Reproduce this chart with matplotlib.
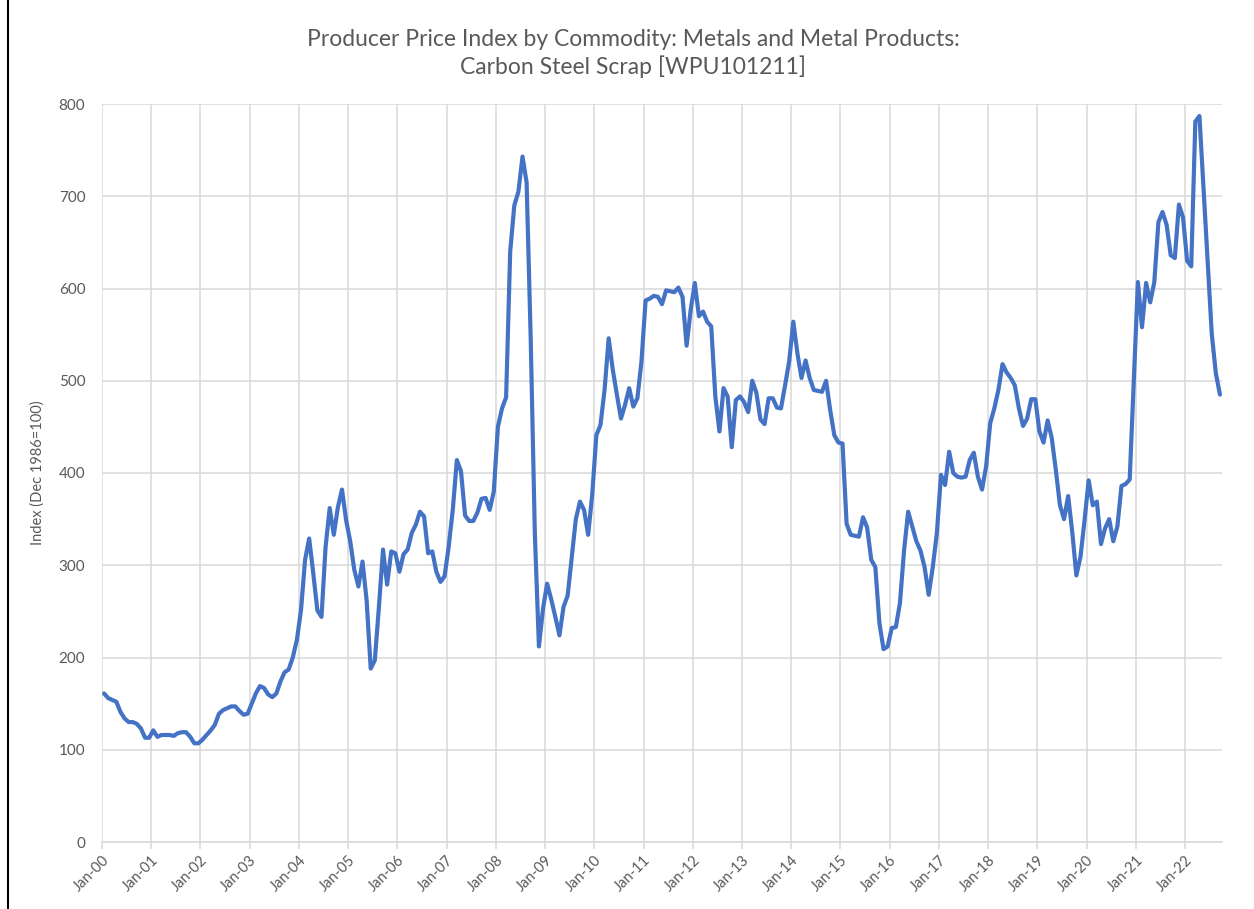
"""
Carbon steel scrap PPI (WPU101211), monthly Jan-2000 .. Sep-2022.
Excel-style single line chart.
"""
import pandas as pd
import matplotlib
matplotlib.use('Agg')
import matplotlib.pyplot as plt

TITLE = ('Producer Price Index by Commodity: Metals and Metal Products:\n'
         'Carbon Steel Scrap [WPU101211]')
YLABEL = 'Index (Dec 1986=100)'
START = '2000-01-01'

# monthly index values, one row per year
PPI = [
    161, 156, 154, 152, 141, 134, 130, 130, 128, 123, 113, 113,   # 2000
    121, 114, 116, 116, 116, 115, 118, 119, 119, 114, 107, 107,   # 2001
    111, 116, 121, 127, 139, 143, 145, 147, 147, 142, 138, 139,   # 2002
    150, 161, 169, 167, 160, 157, 161, 174, 184, 187, 200, 219,   # 2003
    251, 306, 329, 291, 251, 244, 320, 362, 333, 363, 382, 349,   # 2004
    326, 295, 277, 304, 262, 188, 197, 255, 317, 279, 315, 313,   # 2005
    293, 312, 317, 335, 344, 358, 353, 313, 315, 293, 282, 288,   # 2006
    320, 360, 414, 402, 354, 348, 348, 357, 372, 373, 360, 380,   # 2007
    450, 470, 482, 640, 690, 705, 743, 715, 545, 335, 212, 253,   # 2008
    280, 263, 244, 224, 255, 267, 308, 350, 369, 360, 333, 377,   # 2009
    441, 452, 490, 546, 512, 485, 459, 474, 492, 472, 481, 521,   # 2010
    587, 589, 592, 591, 583, 598, 597, 596, 601, 591, 538, 577,   # 2011
    606, 570, 575, 564, 559, 483, 445, 492, 483, 428, 479, 483,   # 2012
    477, 466, 500, 487, 458, 453, 481, 481, 471, 470, 495, 521,   # 2013
    564, 530, 503, 522, 503, 490, 489, 488, 500, 468, 441, 433,   # 2014
    432, 345, 333, 332, 331, 352, 341, 306, 298, 237, 209, 212,   # 2015
    232, 233, 259, 316, 358, 342, 326, 316, 298, 268, 298, 335,   # 2016
    398, 387, 423, 400, 396, 395, 396, 414, 422, 396, 382, 407,   # 2017
    454, 470, 490, 518, 509, 503, 495, 470, 451, 459, 480, 480,   # 2018
    445, 433, 457, 438, 403, 365, 350, 375, 336, 289, 309, 349,   # 2019
    392, 365, 369, 323, 340, 350, 326, 342, 386, 388, 393, 500,   # 2020
    607, 558, 606, 585, 607, 672, 683, 669, 636, 633, 691, 677,   # 2021
    630, 624, 781, 787, 708, 630, 551, 508, 485,                  # 2022
]
YTICKS = list(range(0, 801, 100))

LINE = '#4472C4'
GRID = '#D9D9D9'
TEXT = '#595959'


def main():
    plt.rcParams['font.family'] = ['Lato', 'DejaVu Sans']
    months = pd.date_range(START, periods=len(PPI), freq='MS')
    xs = list(range(len(PPI)))
    jan = [i for i, d in enumerate(months) if d.month == 1]
    jan_pos = [i - 0.5 for i in jan]
    jan_lab = [months[i].strftime('Jan-%y') for i in jan]

    fig = plt.figure(figsize=(12.54, 9.09), dpi=100)
    ax = fig.add_axes([102 / 1254, 1 - 842 / 909, 1120 / 1254, 738 / 909])
    ax.plot(xs, PPI, color=LINE, lw=3.0, solid_joinstyle='round',
            solid_capstyle='round', zorder=3)

    ax.set_xlim(-0.5, len(PPI) - 0.5)
    ax.set_ylim(0, 800)
    ax.set_yticks(YTICKS)
    ax.set_xticks(jan_pos)
    ax.set_xticklabels(jan_lab, rotation=45, ha='right', va='top',
                       rotation_mode='anchor')
    ax.grid(True, color=GRID, lw=1.1)
    ax.set_axisbelow(True)
    for s in ('top', 'right', 'left'):
        ax.spines[s].set_visible(False)
    ax.spines['bottom'].set_color(GRID)
    ax.spines['bottom'].set_linewidth(1.1)
    ax.tick_params(axis='x', colors=GRID, length=5, width=1.1,
                   labelcolor=TEXT, labelsize=10.5, pad=3)
    ax.tick_params(axis='y', length=0, labelcolor=TEXT, labelsize=11, pad=12)
    ax.set_ylabel(YLABEL, color=TEXT, fontsize=10.5, labelpad=10)

    fig.text(0.505, 0.968, TITLE, ha='center', va='top', color=TEXT,
             fontsize=16.5, linespacing=1.3)
    fig.add_artist(plt.Line2D([0.006, 0.006], [0, 1], transform=fig.transFigure,
                              color='black', lw=1.5))
    fig.savefig('out.png', dpi=100)


if __name__ == '__main__':
    main()
